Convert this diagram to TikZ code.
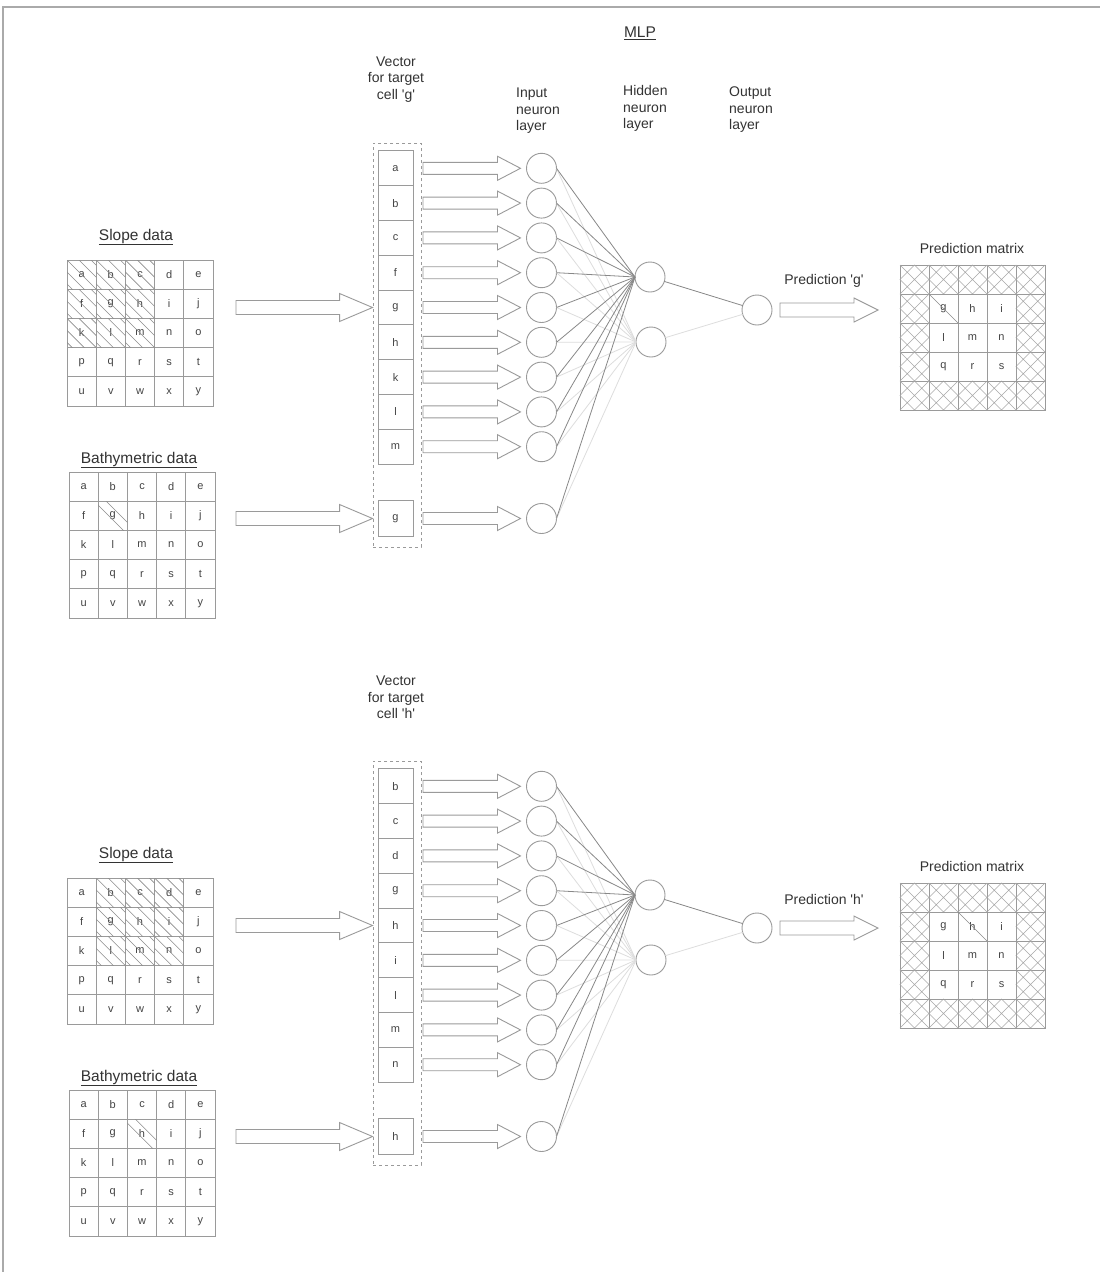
\documentclass[tikz,border=0pt]{standalone}
\usepackage{fontspec}
\setmainfont{Liberation Sans}[Ligatures=TeXOff]
\usetikzlibrary{calc}
\definecolor{lg}{HTML}{9A9A9A}
\definecolor{txt}{HTML}{333333}
\definecolor{celltxt}{HTML}{444444}
\definecolor{darkc}{HTML}{888888}
\definecolor{lightc}{HTML}{DDDDDD}
\definecolor{hatchc}{HTML}{8C8C8C}
\definecolor{xhatchc}{HTML}{A8A8A8}
\definecolor{framec}{HTML}{AAAAAA}
\tikzset{
  cell/.style={draw=lg, line width=1pt, inner sep=0pt, outer sep=0pt, text=celltxt, font=\fontsize{11}{12}\selectfont},
  neuron/.style={circle, draw=lg, line width=0.9pt, minimum size=30pt, inner sep=0pt, outer sep=0pt},
  barrow/.style={draw=lg, line width=0.9pt, fill=white},
  hatchline/.style={draw=hatchc, line width=0.6pt},
  xhatchline/.style={draw=xhatchc, line width=0.6pt},
  ttl/.style={text=txt, inner sep=0pt, font=\fontsize{15.5}{18}\selectfont},
  lbl/.style={text=txt, inner sep=0pt, font=\fontsize{14}{16.5}\selectfont, align=center},
  lbll/.style={text=txt, inner sep=0pt, font=\fontsize{14}{16.5}\selectfont, align=left},
  vboxs/.style={draw=lg, dash pattern=on 3pt off 3pt, line width=0.9pt, inner sep=0pt},
  conn/.style={draw=darkc, line width=0.8pt},
  connfaint/.style={draw=lightc, line width=0.8pt},
}
% hatch "\" lines in a cell
\newcommand\hatchcell[2]{%
  \begin{scope}
    \clip (#1.north west) rectangle (#1.south east);
    \foreach \o in {#2} \draw[hatchline] ($(#1.north west)+(\o,0)$) -- ++(45,45);
  \end{scope}}
\newcommand\crosshatch[1]{%
  \draw[xhatchline] (#1.north west) -- (#1.south east) (#1.north east) -- (#1.south west)
    (#1.north) -- (#1.east) -- (#1.south) -- (#1.west) -- cycle;}
% block arrow: start, end, body half, head half, head length
\newcommand\blockarrow[5]{%
  \draw[barrow] let \p1=(#1), \p2=(#2) in
    (\x1,{\y1+#3pt}) -- ({\x2-#5pt},{\y1+#3pt}) -- ({\x2-#5pt},{\y1+#4pt}) -- (\x2,\y1)
    -- ({\x2-#5pt},{\y1-#4pt}) -- ({\x2-#5pt},{\y1-#3pt}) -- (\x1,{\y1-#3pt}) -- cycle;}
% 5x5 letter grid
\newcommand\lettergrid[4]{%
  \foreach \letter [count=\i from 0] in {a,b,...,y}{
    \pgfmathtruncatemacro\rowi{div(\i,5)}
    \pgfmathtruncatemacro\coli{mod(\i,5)}
    \node[cell, minimum size=#4pt] (#1-\letter) at ({#2+(\coli+0.5)*#4},{#3+(\rowi+0.5)*#4}) {\letter};
  }}
% one MLP panel: prefix, y offset, vector letters, target letter
\newcommand\mlppanel[4]{%
  % slope data
  \node[ttl] (#1st) at (136,{#2+237}) {\underline{Slope data}};
  \lettergrid{#1s}{67}{#2+260}{29.2}
  \foreach \letter in {#3}{\hatchcell{#1s-\letter}{-24,-12,0,12,24}}
  % bathymetric data
  \node[ttl] (#1bt) at (139,{#2+460}) {\underline{Bathymetric data}};
  \lettergrid{#1b}{69}{#2+472}{29.2}
  \hatchcell{#1b-#4}{-4,8}
  % vector
  \node[lbl] (#1vl) at (396,{#2+79.5}) {Vector\\for target\\cell '#4'};
  \node[vboxs, minimum width=48pt, minimum height=404pt] (#1vb) at (397,{#2+345}) {};
  \foreach \letter [count=\i] in {#3}{
    \node[cell, minimum width=35pt, minimum height=34.8pt] (#1v-\i) at (395.5,{#2+168.3+(\i-1)*34.8}) {\letter};
  }
  \node[cell, minimum width=35pt, minimum height=36pt] (#1v-10) at (395.5,{#2+518.5}) {#4};
  % big arrows
  \blockarrow{$(#1s-e.east |- #1v-5)+(23,0)$}{#1vb.west |- #1v-5}{7}{14}{33}
  \blockarrow{$(#1b-e.east |- #1v-10)+(21,0)$}{#1vb.west |- #1v-10}{7}{14}{33}
  % neurons
  \coordinate (#1nx) at (541.5,0);
  \foreach \i in {1,...,10}{\node[neuron] (#1in-\i) at (#1v-\i -| #1nx) {};}
  \node[neuron] (#1h1) at (650,{#2+277}) {};
  \node[neuron] (#1h2) at (651,{#2+342}) {};
  \node[neuron] (#1o) at (757,{#2+310}) {};
  \foreach \i in {1,...,10}{\draw[connfaint] (#1in-\i.east) -- (#1h2.west);}
  \foreach \i in {1,...,10}{\draw[conn] (#1in-\i.east) -- (#1h1.west);}
  \draw[connfaint] (#1h2) -- (#1o);
  \draw[conn] (#1h1) -- (#1o);
  % small arrows
  \foreach \i in {1,...,10}{\blockarrow{$(#1v-\i.east)+(10,0)$}{$(#1in-\i.west)+(-6,0)$}{6}{12}{23}}
  % prediction matrix
  \node[ttl, font=\fontsize{14}{16}\selectfont] (#1pt) at (972,{#2+248}) {Prediction matrix};
  \foreach \rowi in {0,...,4}{\foreach \coli in {0,...,4}{
    \pgfmathtruncatemacro\inner{and(and(\rowi>0,\rowi<4),and(\coli>0,\coli<4))}
    \ifnum\inner=0
      \node[cell, minimum size=29pt] (#1pm-\rowi-\coli) at ({900+(\coli+0.5)*29},{#2+265+(\rowi+0.5)*29}) {};
      \crosshatch{#1pm-\rowi-\coli}
    \fi
  }}
  \foreach \letter [count=\i from 0] in {g,h,i,l,m,n,q,r,s}{
    \pgfmathtruncatemacro\rowi{1+div(\i,3)}
    \pgfmathtruncatemacro\coli{1+mod(\i,3)}
    \node[cell, minimum size=29pt] (#1pm-\letter) at ({900+(\coli+0.5)*29},{#2+265+(\rowi+0.5)*29}) {\letter};
  }
  \hatchcell{#1pm-#4}{0}
  % output arrow
  \node[lbl] (#1pl) at (824,{#2+281}) {Prediction '#4'};
  \blockarrow{$(#1o.east)+(8,0)$}{$(#1o.east -| #1pm-0-0.west)+(-22,0)$}{7}{12}{24}
}
\begin{document}
\begin{tikzpicture}[x=1pt,y=-1pt]
  \useasboundingbox (0,0) rectangle (1100,1272);
  \fill[white] (0,0) rectangle (1100,1272);
  \draw[framec, line width=1.5pt] (3,1272) -- (3,7) -- (1100,7);
  % headers
  \node[ttl] (mlp) at (640,33) {\underline{MLP}};
  \node[lbll, anchor=west] (inl) at (516,111) {Input\\neuron\\layer};
  \node[lbll, anchor=west] (hidl) at (623,108.5) {Hidden\\neuron\\layer};
  \node[lbll, anchor=west] (outl) at (729,110) {Output\\neuron\\layer};
  \mlppanel{A}{0}{a,b,c,f,g,h,k,l,m}{g}
  \mlppanel{B}{618}{b,c,d,g,h,i,l,m,n}{h}
\end{tikzpicture}
\end{document}
